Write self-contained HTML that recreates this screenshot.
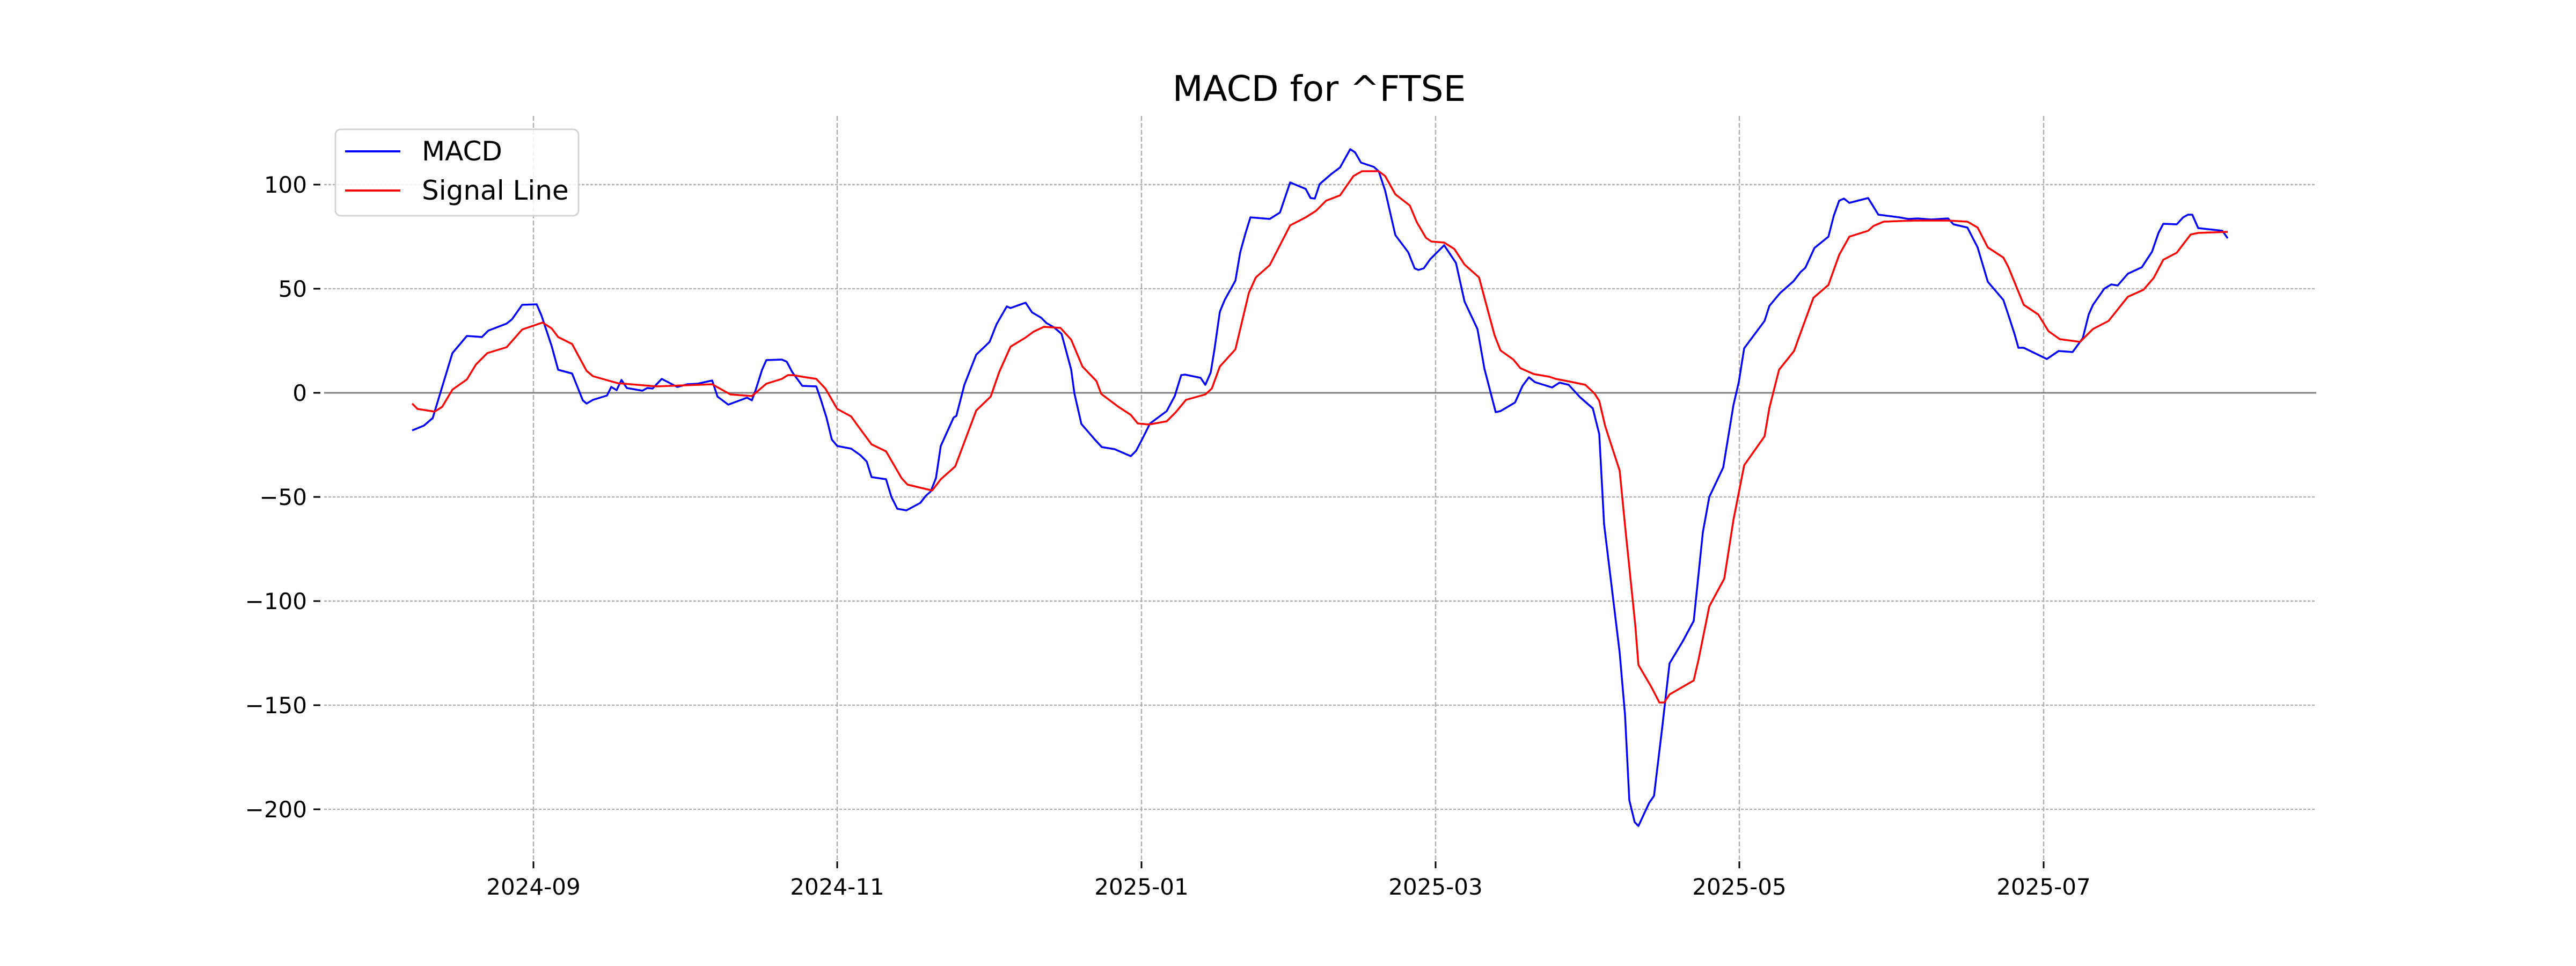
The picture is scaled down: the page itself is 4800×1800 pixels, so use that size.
<!DOCTYPE html>
<html><head><meta charset="utf-8"><style>html,body{margin:0;padding:0;background:#fff}svg{display:block}</style></head><body>
<svg xmlns="http://www.w3.org/2000/svg" width="4800" height="1800" viewBox="0 0 4800 1800" font-family="DejaVu Sans, Liberation Sans, sans-serif">
<rect width="4800" height="1800" fill="#fff"/>
<text x="2458" y="188" font-size="66" text-anchor="middle" fill="#000">MACD for ^FTSE</text>
<g stroke="#b0b0b0" stroke-width="2.5" stroke-dasharray="9,4">
<line x1="994" y1="216" x2="994" y2="1602"/><line x1="1560" y1="216" x2="1560" y2="1602"/><line x1="2127" y1="216" x2="2127" y2="1602"/><line x1="2675" y1="216" x2="2675" y2="1602"/><line x1="3241" y1="216" x2="3241" y2="1602"/><line x1="3808" y1="216" x2="3808" y2="1602"/>
</g>
<g stroke="#b0b0b0" stroke-width="2.5" stroke-dasharray="5,3">
<line x1="604" y1="344" x2="4316" y2="344"/><line x1="604" y1="538" x2="4316" y2="538"/><line x1="604" y1="926" x2="4316" y2="926"/><line x1="604" y1="1120" x2="4316" y2="1120"/><line x1="604" y1="1314" x2="4316" y2="1314"/><line x1="604" y1="1508" x2="4316" y2="1508"/>
</g>
<line x1="604" y1="732" x2="4316" y2="732" stroke="#808080" stroke-width="3"/>
<g stroke="#000" stroke-width="3">
<line x1="584" y1="344" x2="597" y2="344"/><line x1="584" y1="538" x2="597" y2="538"/><line x1="584" y1="732" x2="597" y2="732"/><line x1="584" y1="926" x2="597" y2="926"/><line x1="584" y1="1120" x2="597" y2="1120"/><line x1="584" y1="1314" x2="597" y2="1314"/><line x1="584" y1="1508" x2="597" y2="1508"/>
<line x1="994" y1="1605" x2="994" y2="1618"/><line x1="1560" y1="1605" x2="1560" y2="1618"/><line x1="2127" y1="1605" x2="2127" y2="1618"/><line x1="2675" y1="1605" x2="2675" y2="1618"/><line x1="3241" y1="1605" x2="3241" y2="1618"/><line x1="3808" y1="1605" x2="3808" y2="1618"/>
</g>
<g font-size="42" fill="#000" text-anchor="end">
<text x="572" y="359">100</text><text x="572" y="553">50</text><text x="572" y="747">0</text><text x="572" y="941">−50</text><text x="572" y="1135">−100</text><text x="572" y="1329">−150</text><text x="572" y="1523">−200</text>
</g>
<g font-size="42" fill="#000" text-anchor="middle">
<text x="994" y="1667">2024-09</text><text x="1560" y="1667">2024-11</text><text x="2127" y="1667">2025-01</text><text x="2675" y="1667">2025-03</text><text x="3241" y="1667">2025-05</text><text x="3808" y="1667">2025-07</text>
</g>
<polyline fill="none" stroke="#0000ff" stroke-width="3.5" stroke-linejoin="round" points="768,802 790,793 805,780 806,780 843,658 870,626 898,628 910,616 944,603 954,595 973,568 1000,567 1009,588 1028,645 1040,689 1066,696 1086,746 1093,752 1105,745 1131,737 1139,721 1149,727 1158,708 1168,723 1197,728 1206,723 1216,724 1233,706 1262,721 1281,716 1300,715 1327,709 1337,739 1357,754 1392,741 1401,746 1408,727 1420,689 1428,671 1457,670 1466,674 1476,693 1495,719 1521,720 1529,743 1540,778 1550,819 1560,831 1586,836 1603,848 1615,860 1624,889 1651,893 1661,926 1672,948 1689,951 1715,937 1725,924 1734,916 1744,891 1753,831 1777,778 1782,775 1797,717 1819,661 1844,637 1857,604 1876,571 1883,574 1911,564 1923,582 1940,592 1950,602 1964,610 1978,622 1988,659 1996,689 2002,733 2015,790 2040,819 2053,833 2077,837 2107,850 2117,840 2129,817 2143,789 2174,766 2189,738 2201,699 2208,698 2237,704 2246,717 2256,694 2263,651 2273,581 2282,559 2302,523 2311,470 2321,434 2330,405 2366,408 2385,396 2404,340 2433,352 2442,369 2450,370 2459,343 2481,324 2497,312 2516,278 2525,284 2536,303 2560,311 2569,319 2581,355 2600,438 2624,470 2636,500 2643,503 2653,500 2665,483 2691,457 2713,490 2729,562 2753,613 2766,687 2787,768 2796,766 2823,750 2837,719 2849,703 2860,712 2892,722 2906,713 2923,717 2944,740 2968,761 2980,809 2989,977 3018,1216 3028,1332 3036,1491 3046,1532 3053,1539 3073,1496 3082,1483 3097,1358 3111,1236 3135,1196 3156,1157 3173,992 3185,926 3211,871 3230,755 3240,712 3250,649 3288,598 3297,570 3317,546 3342,524 3355,507 3364,499 3381,462 3407,441 3417,402 3427,374 3436,370 3446,378 3481,369 3500,400 3539,405 3556,408 3573,407 3599,409 3630,407 3640,418 3666,424 3685,461 3704,525 3733,559 3744,592 3754,623 3761,648 3771,648 3814,669 3836,654 3862,656 3881,630 3892,586 3900,568 3921,538 3934,530 3946,532 3965,510 3991,498 4010,469 4022,434 4031,417 4056,418 4068,405 4077,400 4085,400 4096,425 4141,430 4151,444"/>
<polyline fill="none" stroke="#ff0000" stroke-width="3.5" stroke-linejoin="round" points="768,752 778,762 810,767 824,758 843,726 870,707 887,679 908,658 944,647 973,614 1011,601 1028,612 1040,628 1066,641 1093,691 1105,701 1151,714 1223,720 1327,716 1361,735 1401,738 1428,715 1457,706 1468,699 1477,699 1495,702 1521,706 1538,724 1560,762 1586,776 1596,790 1624,828 1651,841 1680,891 1691,903 1737,914 1753,893 1780,869 1819,765 1846,739 1862,693 1883,646 1911,629 1926,618 1945,609 1976,611 1996,633 2017,683 2043,710 2052,734 2084,758 2107,773 2120,789 2141,791 2174,785 2191,768 2210,745 2246,735 2258,724 2273,683 2302,651 2327,546 2340,517 2366,494 2404,420 2433,405 2452,393 2471,374 2497,364 2522,328 2538,319 2569,319 2581,328 2600,362 2627,383 2640,414 2657,443 2667,450 2691,452 2710,464 2729,493 2756,517 2772,577 2785,625 2796,653 2820,670 2833,686 2858,697 2887,702 2899,706 2925,711 2954,717 2971,733 2980,747 2991,794 3018,877 3028,979 3047,1164 3053,1239 3077,1280 3092,1309 3101,1309 3111,1294 3156,1268 3165,1229 3185,1130 3213,1078 3230,969 3250,867 3288,813 3297,760 3315,689 3343,654 3353,626 3379,555 3407,531 3427,475 3446,441 3481,430 3491,421 3510,413 3565,411 3630,411 3666,413 3685,424 3704,461 3733,480 3742,497 3771,568 3798,586 3817,617 3838,632 3876,637 3900,613 3929,598 3965,553 3994,540 4013,518 4031,484 4056,471 4082,437 4096,434 4151,432"/>
<rect x="625" y="241" width="453" height="161" rx="10" fill="#fff" fill-opacity="0.85" stroke="#d3d3d3" stroke-width="3"/>
<line x1="643" y1="282" x2="746" y2="282" stroke="#0000ff" stroke-width="4"/>
<line x1="643" y1="355" x2="746" y2="355" stroke="#ff0000" stroke-width="4"/>
<text x="786" y="299" font-size="50" fill="#000">MACD</text>
<text x="786" y="372" font-size="50" fill="#000">Signal Line</text>
</svg>
</body></html>
